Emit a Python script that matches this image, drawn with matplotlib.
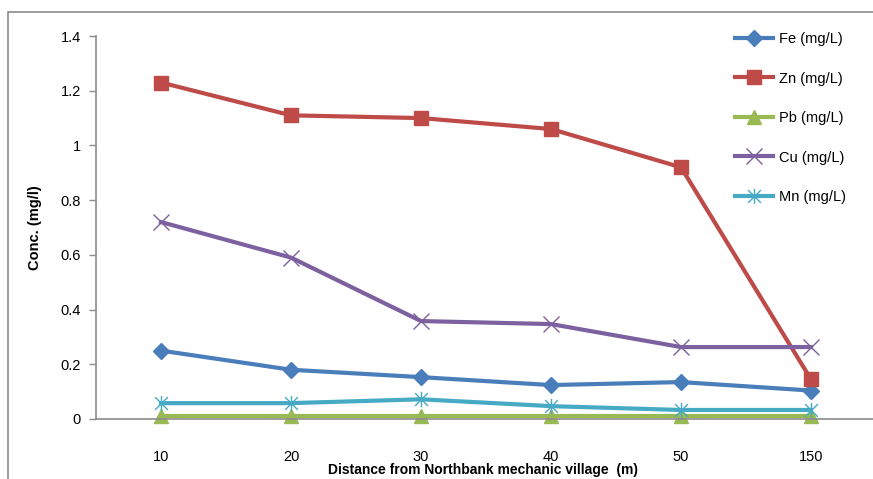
import matplotlib.pyplot as plt
from matplotlib.patches import Rectangle
from matplotlib.path import Path

plt.rcParams['font.family'] = ['Liberation Sans', 'DejaVu Sans']

distances = ['10', '20', '30', '40', '50', '150']
fe = [0.25, 0.18, 0.153, 0.124, 0.135, 0.104]
zn = [1.23, 1.11, 1.10, 1.06, 0.92, 0.145]
pb = [0.01, 0.01, 0.01, 0.01, 0.01, 0.01]
cu = [0.72, 0.59, 0.358, 0.347, 0.263, 0.263]
mn = [0.058, 0.058, 0.072, 0.047, 0.033, 0.033]

# Excel style "star" marker: an x with a vertical bar
star = Path([(-1, -1), (1, 1), (-1, 1), (1, -1), (0, -1.2), (0, 1.2)],
            [Path.MOVETO, Path.LINETO, Path.MOVETO, Path.LINETO, Path.MOVETO, Path.LINETO])

series = [
    ('Fe (mg/L)', fe, '#4A7EBB', 'D', 8),
    ('Zn (mg/L)', zn, '#BE4B48', 's', 10),
    ('Pb (mg/L)', pb, '#98B954', '^', 10),
    ('Cu (mg/L)', cu, '#7D60A0', 'x', 11),
    ('Mn (mg/L)', mn, '#46AAC5', star, 11),
]

W, H = 873, 479
fig = plt.figure(figsize=(W / 100, H / 100), dpi=100)
ax = fig.add_axes([96 / W, (H - 419) / H, (W - 96) / W, (419 - 36) / H])

# chart area border (clipped at right/bottom like the reference)
fig.patches.append(Rectangle((8 / W, -0.1), 2, 1 - 12 / H + 0.1, transform=fig.transFigure,
                             fill=False, edgecolor='#8c8c8c', linewidth=1.2))

x = list(range(len(distances)))
for label, vals, color, marker, ms in series:
    ax.plot(x, vals, color=color, lw=3, marker=marker, markersize=ms,
            markeredgewidth=1, markeredgecolor=color, label=label, clip_on=False)

ax.set_xlim(-0.5, (W - 161) / 130)
ax.set_ylim(0, 1.4)
ax.set_yticks([0, 0.2, 0.4, 0.6, 0.8, 1.0, 1.2, 1.4])
ax.set_yticklabels(['0', '0.2', '0.4', '0.6', '0.8', '1', '1.2', '1.4'])
ax.set_xticks(x)
ax.set_xticklabels(distances)
ax.tick_params(axis='x', length=0, pad=22, labelsize=10.5)
ax.tick_params(axis='y', length=5, width=1, color='#8c8c8c', pad=6, labelsize=10.5)

for side in ['top', 'right']:
    ax.spines[side].set_visible(False)
for side in ['left', 'bottom']:
    ax.spines[side].set_color('#8c8c8c')
    ax.spines[side].set_linewidth(1.2)

ax.set_ylabel('Conc. (mg/l)', fontsize=10.5, fontweight='bold', labelpad=13)
fig.text(483 / W, 1 - 470 / H, 'Distance from Northbank mechanic village  (m)',
         ha='center', va='center', fontsize=10, fontweight='bold')

ax.legend(loc='upper left', bbox_to_anchor=(735 / W, 1 - 32 / H),
          bbox_transform=fig.transFigure, frameon=False, fontsize=10.5,
          borderpad=0, borderaxespad=0, labelspacing=1.75, handlelength=2.6,
          handletextpad=0.4)

fig.savefig('out.png', dpi=100)
